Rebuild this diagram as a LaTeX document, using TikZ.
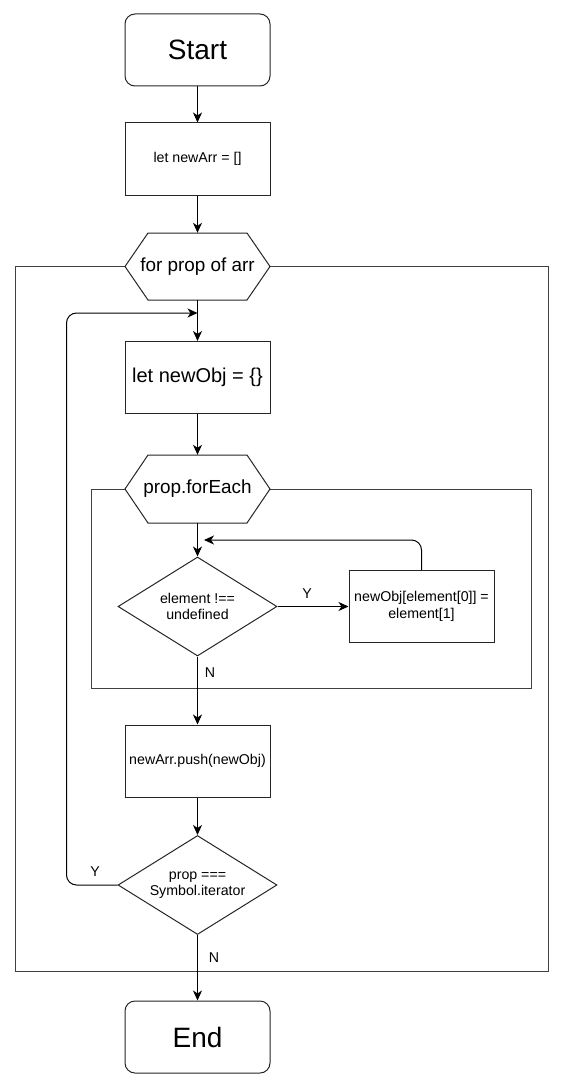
\documentclass[tikz,border=0pt]{standalone}
\usepackage{fontspec}
\setmainfont{Liberation Sans}
\usetikzlibrary{arrows.meta,calc,shapes.geometric}
\begin{document}
\begin{tikzpicture}[x=1pt,y=-1pt,
  base/.style={draw=black!85, line width=1pt, fill=white, inner sep=0pt, align=center, font=\fontsize{14.2}{16.5}\selectfont},
  term/.style={base, rounded corners=10pt, minimum width=145pt, minimum height=72pt, font=\fontsize{28}{32}\selectfont},
  proc/.style={base, minimum width=145pt, minimum height=72pt},
  dec/.style={base, diamond, aspect=1.6, minimum width=159pt, minimum height=99pt},
  hextext/.style={inner sep=0pt, minimum width=145pt, minimum height=#1, font=\fontsize{18.9}{22}\selectfont},
  hexline/.style={draw=black!85, line width=1pt, fill=white},
  frame/.style={draw=black!75, line width=1pt},
  arr/.style={draw=black, line width=1pt, -{Stealth[length=10pt,width=9pt,inset=3pt]}},
  lab/.style={inner sep=0pt, font=\fontsize{14.2}{16.5}\selectfont}]
\useasboundingbox (0,0) rectangle (564,1089);

% containers
\draw[frame] (15,266.5) rectangle (548,971);
\draw[frame] (91,489) rectangle (531,688);

% nodes
\node[term] (start) at (197.5,50) {Start};
\node[proc] (newarr) at (197.5,159) {let newArr = []};

\coordinate (h1c) at (197.5,266.5);
\draw[hexline] ($(h1c)+(-72.5,0)$) -- ($(h1c)+(-49.5,-33.5)$) -- ($(h1c)+(49.5,-33.5)$) -- ($(h1c)+(72.5,0)$) -- ($(h1c)+(49.5,33.5)$) -- ($(h1c)+(-49.5,33.5)$) -- cycle;
\node[hextext=67pt] (h1) at (h1c) {for prop of arr};

\node[proc, font=\fontsize{20}{24}\selectfont] (newobj) at (197.5,377.5) {let newObj = \{\}};

\coordinate (h2c) at (197.5,489);
\draw[hexline] ($(h2c)+(-72.5,0)$) -- ($(h2c)+(-49.5,-34)$) -- ($(h2c)+(49.5,-34)$) -- ($(h2c)+(72.5,0)$) -- ($(h2c)+(49.5,34)$) -- ($(h2c)+(-49.5,34)$) -- cycle;
\node[hextext=68pt] (h2) at (h2c) {prop.forEach};

\node[dec] (d1) at (197.5,606.5) {element !==\\undefined};
\node[proc] (setb) at (421.5,606.5) {newObj[element[0]] =\\element[1]};
\node[proc] (push) at (197.5,761) {newArr.push(newObj)};
\node[dec] (d2) at (197.5,885) {prop ===\\Symbol.iterator};
\node[term] (end) at (197.5,1037) {End};

\coordinate (loopin) at (197.5,313);
\coordinate (loop2in) at (204,540);

% connectors
\draw[arr] (start) -- (newarr);
\draw[arr] (newarr) -- (h1);
\draw[arr] (h1) -- (newobj);
\draw[arr] (newobj) -- (h2);
\draw[arr] (h2) -- (d1);
\draw[arr] (d1) -- (setb);
\draw[arr] (d1) -- (push);
\draw[arr] (push) -- (d2);
\draw[arr] (d2) -- (end);
\draw[arr, rounded corners=10pt] (d2.west) -- ++(-51,0) |- (loopin);
\draw[arr, rounded corners=10pt] (setb.north) |- (loop2in);

% labels
\node[lab] (ly1) at (307,594) {Y};
\node[lab] (ln1) at (210,673) {N};
\node[lab] (ly2) at (95,872) {Y};
\node[lab] (ln2) at (214,958) {N};
\end{tikzpicture}
\end{document}
